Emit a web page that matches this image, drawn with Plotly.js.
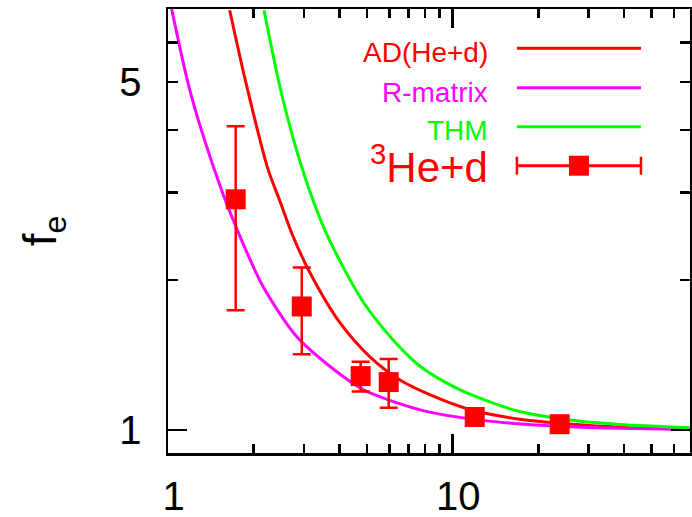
<!DOCTYPE html>
<html>
<head>
<meta charset="utf-8">
<script src="https://cdn.plot.ly/plotly-3.0.1.min.js"></script>
<style>html,body{margin:0;padding:0;background:#fff}#chart{width:692px;height:517px}</style>
</head>
<body>
<div id="chart"></div>
<script>
// ---- data ----
const adE   = [1.647, 1.875, 2.245, 2.468, 2.748, 3.146, 4.01, 5.11, 6.51, 8.30, 11.47, 17.19, 25.76, 38.6, 68];
const adF   = [6.96, 5.0, 3.34, 2.89, 2.45, 2.075, 1.645, 1.405, 1.262, 1.178, 1.100, 1.052, 1.029, 1.014, 1.006];
const rmE   = [1.03, 1.173, 1.31, 1.553, 1.80, 2.157, 2.825, 3.698, 4.842, 6.34, 8.30, 13.13, 22.5, 38.6, 68];
const rmF   = [7.0, 5.0, 4.0, 3.0, 2.43, 1.942, 1.543, 1.344, 1.207, 1.136, 1.087, 1.044, 1.020, 1.009, 1.003];
const thmE  = [2.174, 2.46, 2.80, 3.231, 3.698, 4.842, 6.34, 7.66, 10.02, 13.13, 17.19, 25.76, 38.6, 68];
const thmF  = [6.96, 4.95, 3.72, 2.893, 2.40, 1.81, 1.492, 1.345, 1.224, 1.146, 1.090, 1.048, 1.027, 1.012];
const expE  = [1.729, 2.95, 4.75, 5.96, 11.95, 23.76];
const expF  = [2.906, 1.771, 1.284, 1.249, 1.063, 1.028];
const expErr= [1.165, 0.35, 0.088, 0.14, 0.02, 0.01];
const xTickVals = [1, 10];
const xTickText = [' 1', ' 10'];
const xMinorVals = [2, 3, 4, 5, 6, 7, 8, 9, 20, 30, 40, 50, 60];
const yTickVals = [1, 5];
const yTickText = ['1', '5'];
const yMinorVals = [2, 3, 4, 6];
const legendLabels = ['AD(He+d)', 'R-matrix', 'THM', '<sup>3</sup>He+d'];

const FONT = 'Liberation Sans, Arial, Helvetica, sans-serif';
const RED = '#ff0000', MAG = '#ff00ff', GRN = '#00ff00';

const traces = [
  {x: adE, y: adF, mode: 'lines', line: {color: RED, width: 3, shape: 'spline', smoothing: 0.8}, name: legendLabels[0], showlegend: false},
  {x: rmE, y: rmF, mode: 'lines', line: {color: MAG, width: 3, shape: 'spline', smoothing: 0.8}, name: legendLabels[1], showlegend: false},
  {x: thmE, y: thmF, mode: 'lines', line: {color: GRN, width: 3, shape: 'spline', smoothing: 0.8}, name: legendLabels[2], showlegend: false},
  {x: expE, y: expF, mode: 'markers', name: legendLabels[3], showlegend: false,
   marker: {symbol: 'square', size: 20, color: RED},
   error_y: {type: 'data', array: expErr, visible: true, color: RED, thickness: 2.5, width: 9}},
  // invisible helper on overlay axis that carries the long tick at 1
  {x: [2], y: [2], yaxis: 'y2', mode: 'markers', marker: {opacity: 0}, hoverinfo: 'skip', showlegend: false}
];

// legend geometry in paper coordinates
const pl = 168.3, pr = 690, pt = 9, pb = 453;
const px = v => (v - pl) / (pr - pl);
const py = v => (pb - v) / (pb - pt);
const rowsLine = [48.3, 87.7, 126.7, 165.7];
const rowsText = [52.7, 92.5, 130.3, 164];
const colors = [RED, MAG, GRN, RED];
const sizes = [28, 28, 28, 42];
const annotations = legendLabels.map((t, i) => ({
  text: t, xref: 'paper', yref: 'paper', x: px(489), y: py(rowsText[i]),
  xanchor: 'right', yanchor: 'middle', showarrow: false, borderpad: 0,
  font: {family: FONT, size: sizes[i], color: colors[i]}
}));
const shapes = [];
for (let i = 0; i < 4; i++) {
  shapes.push({type: 'line', xref: 'paper', yref: 'paper', x0: px(517), x1: px(641),
    y0: py(rowsLine[i]), y1: py(rowsLine[i]), line: {color: colors[i], width: 3}});
}
// error-bar sample caps and square
shapes.push({type: 'line', xref: 'paper', yref: 'paper', x0: px(517), x1: px(517), y0: py(rowsLine[3] - 9), y1: py(rowsLine[3] + 9), line: {color: RED, width: 2.5}});
shapes.push({type: 'line', xref: 'paper', yref: 'paper', x0: px(641), x1: px(641), y0: py(rowsLine[3] - 9), y1: py(rowsLine[3] + 9), line: {color: RED, width: 2.5}});
shapes.push({type: 'rect', xref: 'paper', yref: 'paper', x0: px(569), x1: px(589), y0: py(rowsLine[3] - 10), y1: py(rowsLine[3] + 10), line: {width: 0}, fillcolor: RED});

const yRange = [Math.log10(0.9), Math.log10(7)];
const layout = {
  width: 692, height: 517,
  margin: {l: 168, r: 2, t: 9, b: 64, pad: 0},
  paper_bgcolor: '#fff', plot_bgcolor: '#fff',
  font: {family: FONT, color: '#000'},
  showlegend: false,
  xaxis: {
    type: 'log', range: [0, 1.8335], autorange: false,
    tickmode: 'array', tickvals: xTickVals, ticktext: xTickText,
    ticks: 'inside', ticklen: 19, tickwidth: 2.5, tickcolor: '#000',
    showline: true, linewidth: 2.5, linecolor: '#000', mirror: 'ticks',
    showgrid: false, zeroline: false,
    tickfont: {family: FONT, size: 40, color: '#000'},
    ticklabelstandoff: 6,
    minor: {tickmode: 'array', tickvals: xMinorVals, ticks: 'inside', ticklen: 9, tickwidth: 2.5, tickcolor: '#000', showgrid: false}
  },
  yaxis: {
    type: 'log', range: yRange, autorange: false,
    tickmode: 'array', tickvals: yTickVals, ticktext: yTickText,
    ticks: 'inside', ticklen: 10, tickwidth: 2.5, tickcolor: '#000',
    showline: true, linewidth: 2.5, linecolor: '#000', mirror: 'ticks',
    showgrid: false, zeroline: false,
    tickfont: {family: FONT, size: 40, color: '#000'},
    ticklabelstandoff: 16,
    minor: {tickmode: 'array', tickvals: yMinorVals, ticks: 'inside', ticklen: 10, tickwidth: 2.5, tickcolor: '#000', showgrid: false},
    title: {text: 'f<sub>e</sub>', font: {family: FONT, size: 46, color: '#000'}, standoff: 48}
  },
  yaxis2: {
    type: 'log', range: yRange, autorange: false, overlaying: 'y', side: 'left',
    tickmode: 'array', tickvals: [1], ticks: 'inside', ticklen: 19, tickwidth: 2.5, tickcolor: '#000',
    showticklabels: false, showline: false, showgrid: false, zeroline: false, mirror: 'ticks'
  },
  annotations: annotations,
  shapes: shapes
};
Plotly.newPlot('chart', traces, layout, {staticPlot: true, displayModeBar: false});
</script>
</body>
</html>
